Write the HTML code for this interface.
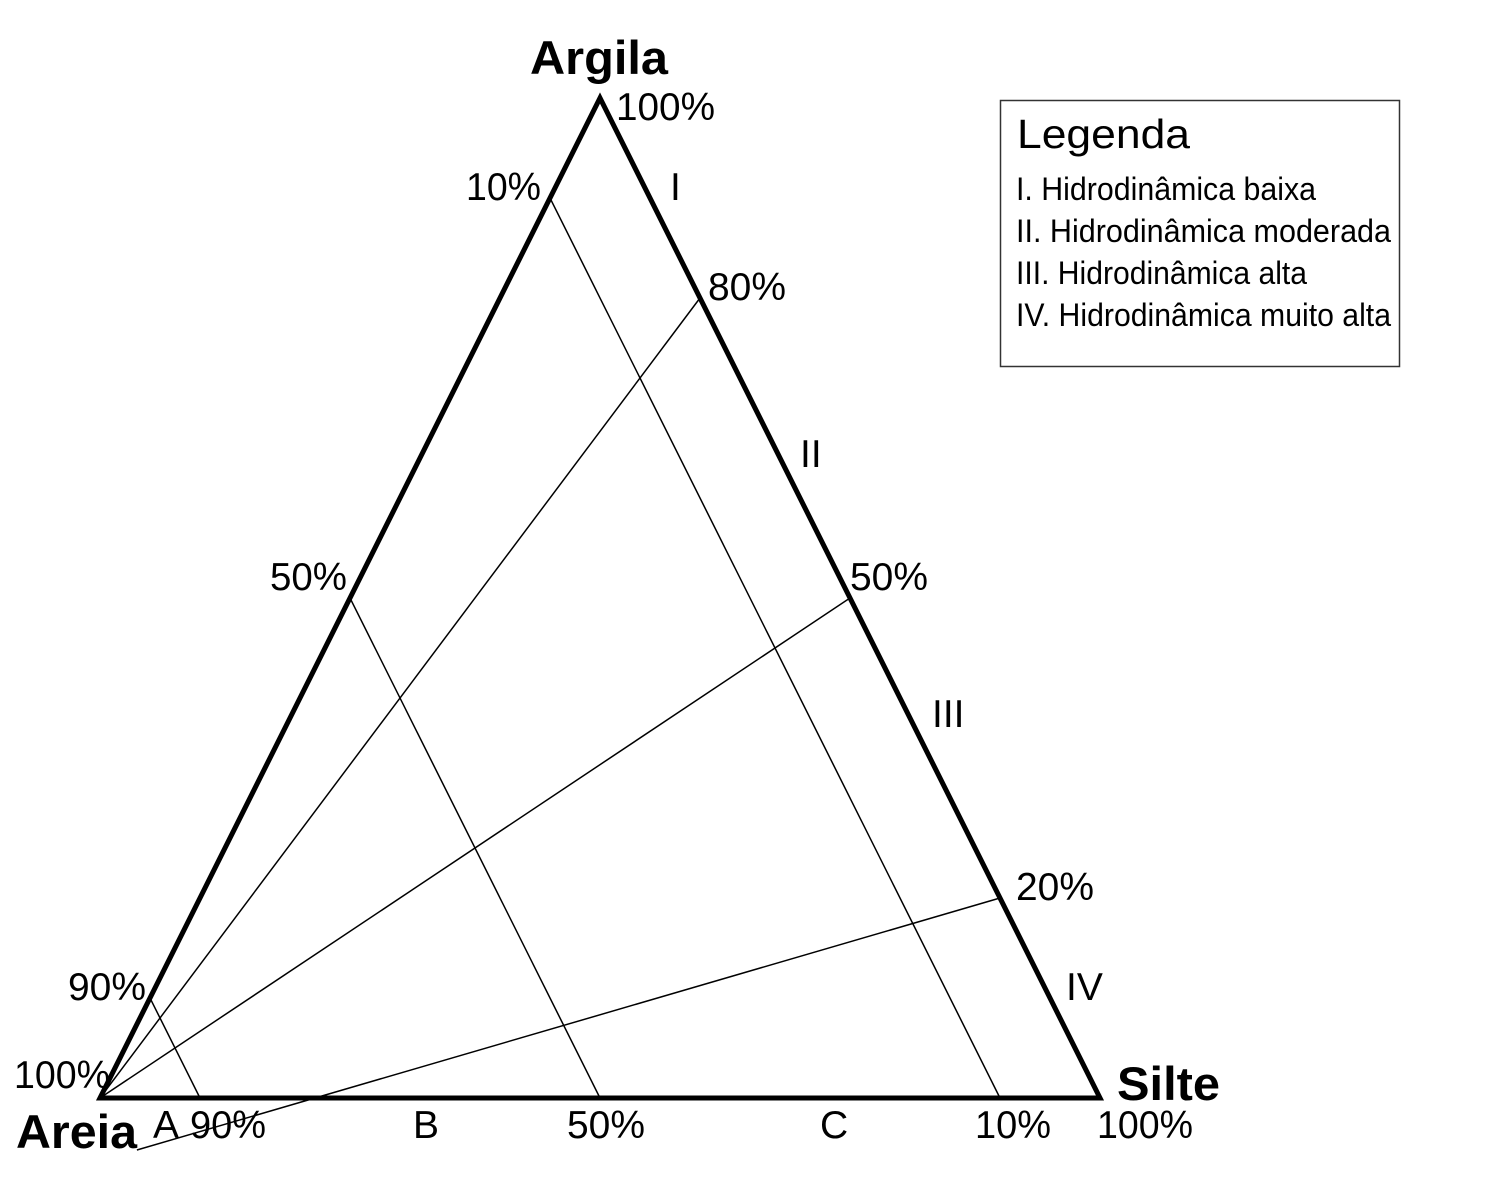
<!DOCTYPE html>
<html><head><meta charset="utf-8"><style>
html,body{margin:0;padding:0;background:#fff;}
svg{display:block;font-family:"Liberation Sans",sans-serif;}
</style></head><body>
<svg id="chart" width="1500" height="1200" viewBox="0 0 1500 1200" xmlns="http://www.w3.org/2000/svg">
<g id="lines"></g>
<g id="tri"></g>
<g font-size="39" fill="#000">
<text x="530" y="74" font-size="47" font-weight="bold" textLength="138" lengthAdjust="spacingAndGlyphs">Argila</text>
<text x="1117" y="1100" font-size="47" font-weight="bold" textLength="103" lengthAdjust="spacingAndGlyphs">Silte</text>
<text x="16" y="1148" font-size="47" font-weight="bold" textLength="121" lengthAdjust="spacingAndGlyphs">Areia</text>
<text x="616" y="120" textLength="99" lengthAdjust="spacingAndGlyphs">100%</text>
<text x="466" y="200" textLength="75" lengthAdjust="spacingAndGlyphs">10%</text>
<text x="270" y="590" textLength="77" lengthAdjust="spacingAndGlyphs">50%</text>
<text x="68" y="1000" textLength="78" lengthAdjust="spacingAndGlyphs">90%</text>
<text x="14" y="1088" textLength="96" lengthAdjust="spacingAndGlyphs">100%</text>
<text x="708" y="300" textLength="78" lengthAdjust="spacingAndGlyphs">80%</text>
<text x="850" y="590" textLength="78" lengthAdjust="spacingAndGlyphs">50%</text>
<text x="1016" y="900" textLength="78" lengthAdjust="spacingAndGlyphs">20%</text>
<text x="670" y="200">I</text>
<text x="800" y="467">II</text>
<text x="932" y="727">III</text>
<text x="1066" y="1000">IV</text>
<text x="153" y="1138">A</text>
<text x="190" y="1138" textLength="76" lengthAdjust="spacingAndGlyphs">90%</text>
<text x="413" y="1138">B</text>
<text x="567" y="1138" textLength="78" lengthAdjust="spacingAndGlyphs">50%</text>
<text x="820" y="1138">C</text>
<text x="975" y="1138" textLength="76" lengthAdjust="spacingAndGlyphs">10%</text>
<text x="1097" y="1138" textLength="96" lengthAdjust="spacingAndGlyphs">100%</text>
</g>
<g>
<rect x="1000.5" y="100.5" width="399" height="266" fill="none" stroke="#333" stroke-width="1.5"/>
<text x="1017" y="148" font-size="41" textLength="173" lengthAdjust="spacingAndGlyphs">Legenda</text>
<text x="1016" y="200" font-size="32" textLength="300" lengthAdjust="spacingAndGlyphs">I. Hidrodinâmica baixa</text>
<text x="1016" y="242" font-size="32" textLength="375" lengthAdjust="spacingAndGlyphs">II. Hidrodinâmica moderada</text>
<text x="1016" y="284" font-size="32" textLength="291" lengthAdjust="spacingAndGlyphs">III. Hidrodinâmica alta</text>
<text x="1016" y="326" font-size="32" textLength="375" lengthAdjust="spacingAndGlyphs">IV. Hidrodinâmica muito alta</text>
</g>
</svg>
<script>
// Fractions along edges
var sandLines = [0.1, 0.5, 0.9];      // from left edge (fraction from top) to bottom edge
var clayRays = [0.8, 0.5, 0.2];       // clay % on right edge, rays from Areia vertex
var extendedRay = 0.2;                // ray extended beyond Areia vertex
var T = {x:600, y:98}, L = {x:100, y:1098}, R = {x:1100, y:1098};
var NS = 'http://www.w3.org/2000/svg';
function lerp(a,b,t){return {x:a.x+(b.x-a.x)*t, y:a.y+(b.y-a.y)*t};}
function line(g,p,q,w,name){
  var l=document.createElementNS(NS,'line');
  l.setAttribute('x1',p.x);l.setAttribute('y1',p.y);l.setAttribute('x2',q.x);l.setAttribute('y2',q.y);
  l.setAttribute('stroke','#000');l.setAttribute('stroke-width',w);
  
  
  g.appendChild(l);
}
var G=document.getElementById('lines');
sandLines.forEach(function(f){
  var a=lerp(T,L,f), b=lerp(R,L,f);
  line(G,a,b,1.5,'sand-line');
});
clayRays.forEach(function(c){
  var b=lerp(R,T,c);
  if(c===extendedRay){
    var p={x:315,y:1098}, k=(1150-b.y)/(p.y-b.y);
    line(G,b,{x:b.x+(p.x-b.x)*k,y:1150},1.5,'clay-ray-extended');
  } else {
    line(G,L,b,1.5,'clay-ray');
  }
});
var TG=document.getElementById('tri');
var poly=document.createElementNS(NS,'polygon');
poly.setAttribute('points',T.x+','+T.y+' '+L.x+','+L.y+' '+R.x+','+R.y);
poly.setAttribute('fill','none');poly.setAttribute('stroke','#000');poly.setAttribute('stroke-width','5');


TG.appendChild(poly);
</script>
</body></html>
